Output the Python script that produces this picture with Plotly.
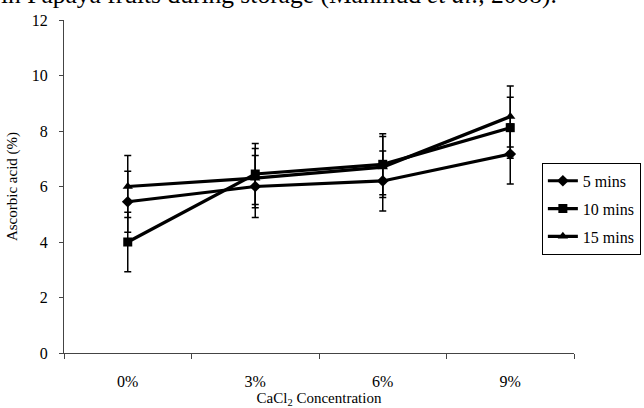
import plotly.graph_objects as go

categories = ["0%", "3%", "6%", "9%"]
series_names = ["5 mins", "10 mins", "15 mins"]
values_5 = [5.45, 6.0, 6.2, 7.17]
values_10 = [4.0, 6.45, 6.8, 8.12]
values_15 = [6.0, 6.3, 6.7, 8.52]
err_5 = [1.1, 1.12, 1.08, 1.08]
err_10 = [1.07, 1.1, 1.1, 1.1]
err_15 = [1.12, 1.07, 1.1, 1.1]
y_ticks = [0, 2, 4, 6, 8, 10, 12]

FONT = "Liberation Serif, Times New Roman, serif"
series = [
    (series_names[0], values_5, err_5, "diamond", 9),
    (series_names[1], values_10, err_10, "square", 9),
    (series_names[2], values_15, err_15, "triangle-up", 9),
]

fig = go.Figure()
for i, (name, vals, errs, sym, size) in enumerate(series):
    fig.add_trace(go.Scatter(
        x=categories, y=vals, name=name, mode="lines+markers",
        legendgroup=f"g{i}",
        line=dict(color="black", width=3.2),
        marker=dict(symbol=sym, size=size, color="black"),
        error_y=dict(type="data", array=errs, visible=True,
                     color="black", thickness=1.5, width=3.5),
    ))

fig.add_annotation(
    text="in Papaya fruits during storage (Mahmud <i>et al.</i>, 2008).",
    xref="paper", yref="paper", x=-0.127, y=1.076,
    xanchor="left", yanchor="middle", showarrow=False,
    font=dict(family=FONT, size=25.5, color="black"),
)

fig.update_layout(
    width=644, height=408,
    margin=dict(l=64, r=70, t=20, b=55, autoexpand=False),
    paper_bgcolor="white", plot_bgcolor="white",
    font=dict(family=FONT, size=16, color="black"),
    showlegend=True,
    legend=dict(
        x=0.937, y=0.571, xanchor="left", yanchor="top",
        bordercolor="black", borderwidth=1, bgcolor="white",
        font=dict(family=FONT, size=16, color="black"),
        traceorder="grouped", tracegroupgap=4,
    ),
    xaxis=dict(
        type="category", range=[-0.5, 3.5], tickson="boundaries",
        ticks="outside", ticklen=5, tickcolor="#444", tickwidth=1,
        showline=True, linecolor="#444", linewidth=1,
        showgrid=False, zeroline=False, automargin=False,
        ticklabelstandoff=14,
        tickfont=dict(family=FONT, size=16, color="black"),
        title=dict(text="CaCl<sub>2</sub> Concentration",
                   font=dict(family=FONT, size=15, color="black"), standoff=4),
    ),
    yaxis=dict(
        range=[0, 12], tickvals=y_ticks,
        ticks="outside", ticklen=4, tickcolor="#444", tickwidth=1,
        showline=True, linecolor="#444", linewidth=1,
        showgrid=False, zeroline=False, automargin=True,
        ticklabelstandoff=8,
        tickfont=dict(family=FONT, size=16, color="black"),
        title=dict(text="Ascorbic acid (%)",
                   font=dict(family=FONT, size=15, color="black"), standoff=10),
    ),
)

fig.write_html("out.html")
